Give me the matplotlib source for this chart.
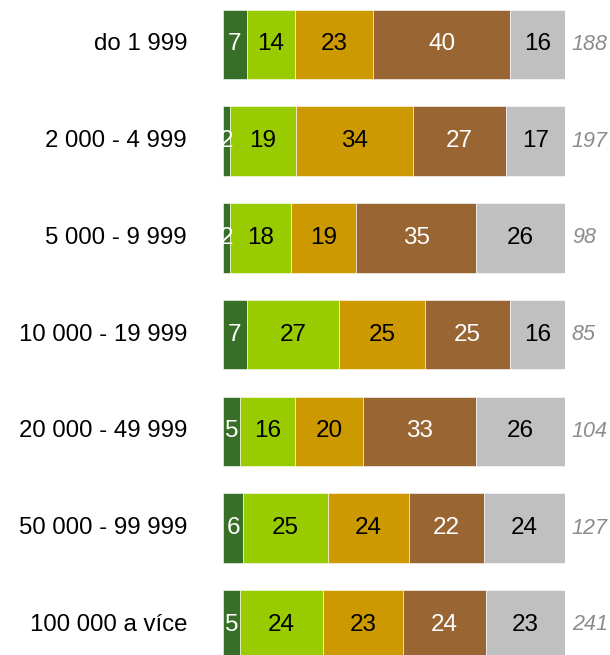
import matplotlib
matplotlib.use('Agg')
import numpy as np
from matplotlib import pyplot as plt

plt.rcParams['font.family'] = ['Liberation Sans', 'DejaVu Sans']

# population size groups and shares (%)
categories = ['do 1 999', '2 000 - 4 999', '5 000 - 9 999', '10 000 - 19 999',
              '20 000 - 49 999', '50 000 - 99 999', '100 000 a více']
s1 = [7, 2, 2, 7, 5, 6, 5]
s2 = [14, 19, 18, 27, 16, 25, 24]
s3 = [23, 34, 19, 25, 20, 24, 23]
s4 = [40, 27, 35, 25, 33, 22, 24]
s5 = [16, 17, 26, 16, 26, 24, 23]
counts = [188, 197, 98, 85, 104, 127, 241]

series = [s1, s2, s3, s4, s5]
colors = ['#386f28', '#99cc00', '#cc9900', '#996633', '#c0c0c0']
txtcol = ['white', 'black', 'black', 'white', 'black']

fig = plt.figure(figsize=(6.1, 6.55), dpi=100)
ax = fig.add_axes([223 / 610, 0, 342 / 610, 1])

y = np.arange(len(categories))
# rounded shares don't always add to 100, bars are full width
totals = np.array(series, dtype=float).sum(axis=0)
left = np.zeros(len(categories))
for vals, c, tc in zip(series, colors, txtcol):
    vals = np.array(vals, dtype=float)
    w = vals * 100 / totals
    ax.barh(y, w, left=left, height=0.72, color=c, edgecolor='white', linewidth=0.4)
    for yi, l, wi, v in zip(y, left, w, vals):
        ax.text(l + wi / 2, yi, f'{int(v)}', ha='center', va='center',
                fontsize=17.5, color=tc)
    left += w

for yi, n in zip(y, counts):
    ax.text(102, yi, str(n), ha='left', va='center', fontsize=15.5,
            style='italic', color='#8c8c8c')
    ax.text(-10.5, yi, categories[yi], ha='right', va='center', fontsize=17.3,
            color='black')

ax.set_xlim(0, 100)
ax.set_ylim(6.313, -0.46)
ax.axis('off')

fig.savefig('out.png', dpi=100)
